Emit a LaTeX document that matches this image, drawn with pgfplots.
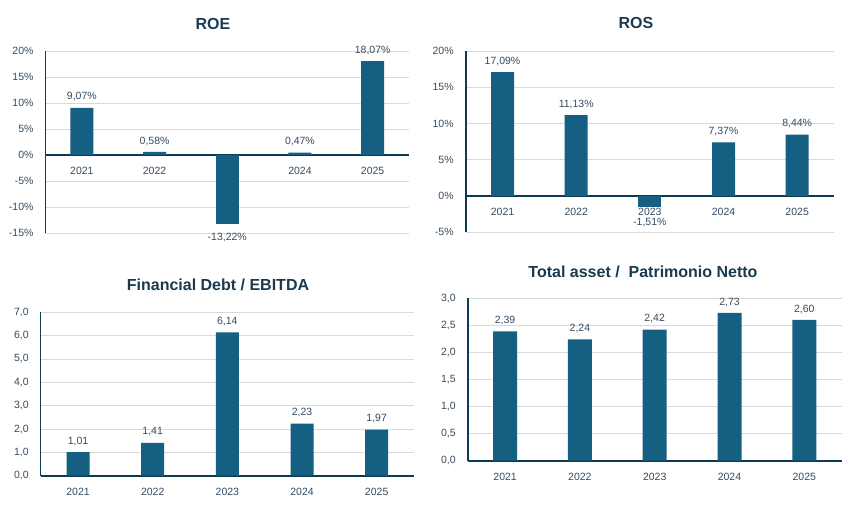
\documentclass[border=0pt]{standalone}
\usepackage{pgfplots}
\pgfplotsset{compat=1.18}
\usepackage{fontspec}
\setmainfont{Liberation Sans}
\definecolor{barc}{HTML}{156082}
\definecolor{axc}{HTML}{0F3B52}
\definecolor{txt}{HTML}{354A5F}
\definecolor{ttl}{HTML}{1B3A4F}
\definecolor{grd}{HTML}{D9D9D9}
\tikzset{ttlfont/.style={font=\bfseries\fontsize{16}{19}\selectfont, text=ttl}}
\pgfplotsset{
 kpi/.style={
  scale only axis,
  anchor=south west,
  axis x line*=middle,
  axis y line*=left,
  axis line style={axc, line width=1.6pt, -},
  xmin=-0.5, xmax=4.5,
  xtick={0,1,2,3,4},
  xticklabels={2021,2022,2023,2024,2025},
  major tick length=0pt,
  ymajorgrids,
  grid style={grd, line width=0.8pt},
  tick label style={font=\fontsize{10.5}{12}\selectfont, text=txt},
  yticklabel style={xshift=-8.5pt},
  xticklabel style={yshift=-8.5pt},
  /pgf/number format/assume math mode=true,
  ybar, bar width=23pt, bar shift=0pt,
  nodes near coords,
  point meta=explicit symbolic,
  every node near coord/.append style={font=\fontsize{10.5}{12}\selectfont, text=txt, yshift=3pt},
  clip=false,
 },
 neg/.style={every node near coord/.append style={anchor=north, yshift=-9pt}},
 pct/.style={yticklabel={\pgfmathprintnumber{\tick}\%}},
 dec/.style={yticklabel style={/pgf/number format/.cd, fixed, fixed zerofill, precision=1, use comma}},
}
\begin{document}
\begin{tikzpicture}
\useasboundingbox (0,0) rectangle (857pt,520pt);
% ROE
\begin{axis}[kpi, pct, at={(45.5pt,287pt)}, width=363.5pt, height=182pt,
  ymin=-15, ymax=20, ytick={-15,-10,...,20}]
\addplot[fill=barc, draw=none] coordinates {
 (0,9.07) [9,07\%]
 (1,0.58) [0,58\%]
 (3,0.47) [0,47\%]
 (4,18.07) [18,07\%]
};
\addplot[fill=barc, draw=none, neg] coordinates {
 (2,-13.22) [-13,22\%]
};
\end{axis}
% ROS
\begin{axis}[kpi, pct, at={(465.7pt,288pt)}, width=368.3pt, height=181pt,
  ymin=-5, ymax=20, ytick={-5,0,...,20}]
\addplot[fill=barc, draw=none] coordinates {
 (0,17.09) [17,09\%]
 (1,11.13) [11,13\%]
 (3,7.37) [7,37\%]
 (4,8.44) [8,44\%]
};
\addplot[fill=barc, draw=none, neg, every node near coord/.append style={yshift=-2pt}] coordinates {
 (2,-1.51) [-1,51\%]
};
\end{axis}
% Financial Debt / EBITDA
\begin{axis}[kpi, dec, at={(40.7pt,44.3pt)}, width=373.3pt, height=163.4pt,
  ymin=0, ymax=7, ytick={0,1,...,7}]
\addplot[fill=barc, draw=none] coordinates {
 (0,1.01) [1,01]
 (1,1.41) [1,41]
 (2,6.14) [6,14]
 (3,2.23) [2,23]
 (4,1.97) [1,97]
};
\end{axis}
% Total asset / Patrimonio Netto
\begin{axis}[kpi, dec, at={(467.7pt,59.3pt)}, width=374pt, height=162.4pt,
  ymin=0, ymax=3, ytick={0,0.5,...,3}, bar width=24pt]
\addplot[fill=barc, draw=none] coordinates {
 (0,2.39) [2,39]
 (1,2.24) [2,24]
 (2,2.42) [2,42]
 (3,2.73) [2,73]
 (4,2.60) [2,60]
};
\end{axis}
\node[ttlfont] at (213pt,496pt) {ROE};
\node[ttlfont] at (636pt,497pt) {ROS};
\node[ttlfont] at (218pt,235pt) {Financial Debt / EBITDA};
\node[ttlfont] at (643pt,248pt) {Total asset /\ \ Patrimonio Netto};
\end{tikzpicture}
\end{document}
